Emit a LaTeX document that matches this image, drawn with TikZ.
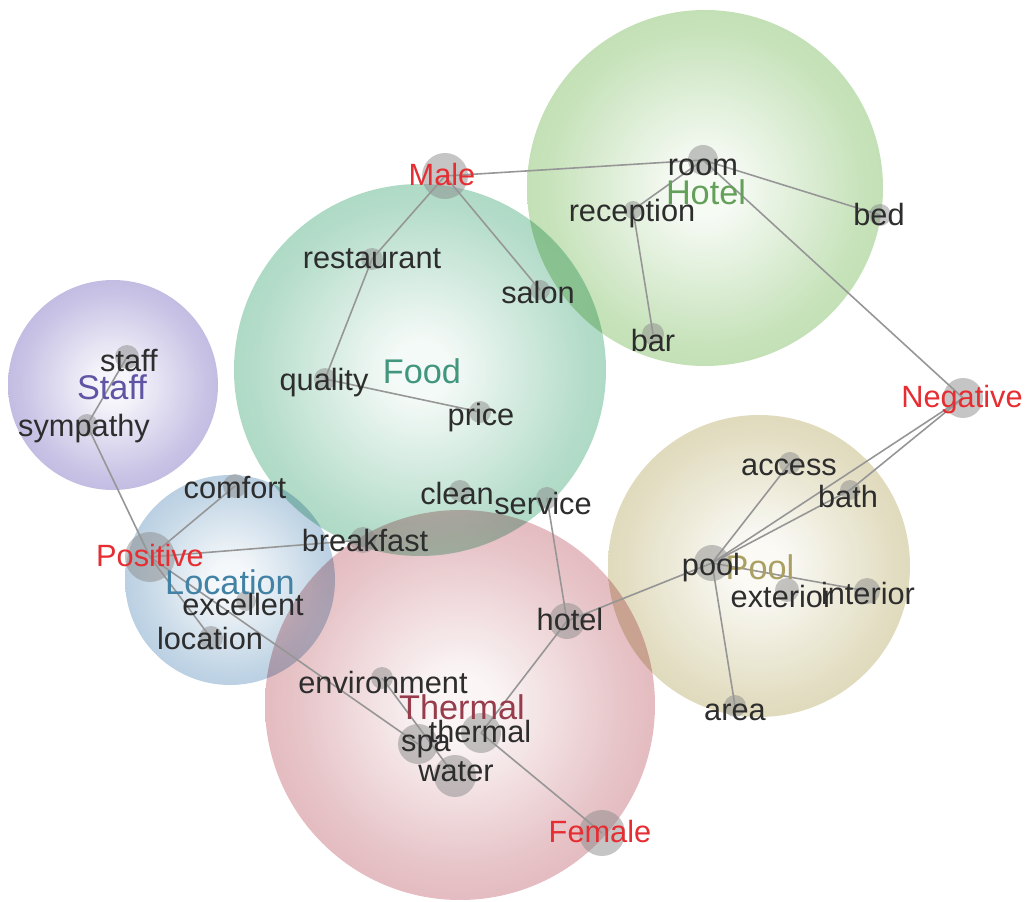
\documentclass[tikz,border=0pt]{standalone}
\usepackage{fontspec}
\setmainfont{Liberation Sans}
\usepackage{xcolor}
\usetikzlibrary{positioning}
\definecolor{bub_staff}{RGB}{148, 136, 205}
\definecolor{bub_food}{RGB}{110, 188, 152}
\definecolor{bub_hotel}{RGB}{146, 200, 122}
\definecolor{bub_loc}{RGB}{132, 172, 204}
\definecolor{bub_therm}{RGB}{206, 134, 142}
\definecolor{bub_pool}{RGB}{200, 190, 136}
\definecolor{lab_staff}{RGB}{95, 85, 165}
\definecolor{lab_food}{RGB}{65, 150, 125}
\definecolor{lab_hotel}{RGB}{100, 160, 90}
\definecolor{lab_loc}{RGB}{65, 130, 165}
\definecolor{lab_therm}{RGB}{150, 60, 75}
\definecolor{lab_pool}{RGB}{170, 160, 100}
\definecolor{feel_red}{RGB}{230, 45, 50}
\definecolor{word_gray}{RGB}{45, 45, 45}
\definecolor{dot_gray}{RGB}{140, 140, 140}
\definecolor{link_gray}{RGB}{150, 150, 150}
\colorlet{bubin}{white}
\colorlet{bubmid}{gray}
\colorlet{bubout}{gray}
\pgfdeclareradialshading[bubin,bubmid,bubout]{bubble}{\pgfpointorigin}%
  {color(0bp)=(bubin); color(4bp)=(bubin); color(22bp)=(bubmid); color(50bp)=(bubout)}

\begin{document}
\begin{tikzpicture}[x=0.02cm, y=-0.02cm,
      bub/.style={/utils/exec={\colorlet{bubin}{#1!8!white}%
                  \colorlet{bubmid}{#1!55!white}\colorlet{bubout}{#1}},
                  shading=bubble, fill opacity=0.92, blend mode=multiply},
      blob/.style={circle, fill=dot_gray, fill opacity=0.5, inner sep=0pt,
                   minimum size=#1*0.02cm},
      blob/.default=22,
      link/.style={draw=link_gray, line width=0.9pt},
      word/.style={font=\fontsize{17.5}{20}\selectfont, text=word_gray, inner sep=0pt},
      feel/.style={word, text=feel_red},
      topic/.style={font=\fontsize{19.5}{22}\selectfont, inner sep=0pt}]
      \fill[white] (0,0) rectangle (1029,902);
      \useasboundingbox (0,0) rectangle (1029,902);
      % Bubbles
      \shade[bub=bub_staff] (113,385) circle (105);
      \shade[bub=bub_hotel] (705,188) circle (178);
      \shade[bub=bub_food] (420,370) circle (186);
      \shade[bub=bub_loc] (230,580) circle (105);
      \shade[bub=bub_pool] (759,566) circle (151);
      \shade[bub=bub_therm] (460,705) circle (195);
      % Hotel
      \node[blob=30] (room) at (703,160) {};
      \node[blob=18] (reception) at (633,210) {};
      \node[blob] (bed) at (880,215) {};
      \node[blob] (bar) at (653,334) {};
      % Food
      \node[blob] (restaurant) at (372,259) {};
      \node[blob=20] (salon) at (540,290) {};
      \node[blob] (quality) at (325,379) {};
      \node[blob] (price) at (480,412) {};
      \node[blob] (clean) at (460,491) {};
      \node[blob] (service) at (547,498) {};
      \node[blob=26] (breakfast) at (363,540) {};
      % Staff
      \node[blob=24] (staff) at (127,357) {};
      \node[blob] (sympathy) at (87,425) {};
      % Location
      \node[blob=24] (comfort) at (235,486) {};
      \node[blob=20] (excellent) at (246,601) {};
      \node[blob=24] (location) at (211,638) {};
      % Thermal
      \node[blob=36] (hotel) at (567,621) {};
      \node[blob] (environment) at (382,678) {};
      \node[blob=40] (thermal) at (481,733) {};
      \node[blob=40] (spa) at (418,744) {};
      \node[blob=42] (water) at (455,776) {};
      % Pool
      \node[blob=36] (pool) at (712,563) {};
      \node[blob] (access) at (790,463) {};
      \node[blob=20] (bath) at (850,490) {};
      \node[blob=24] (exterior) at (787,590) {};
      \node[blob=26] (interior) at (867,591) {};
      \node[blob] (area) at (735,706) {};
      % Sentiment and gender
      \node[blob=46] (male) at (445,176) {};
      \node[blob=40] (negative) at (963,398) {};
      \node[blob=50] (positive) at (150,557) {};
      \node[blob=46] (female) at (602,833) {};
      % Links
      \draw[link] (male.center) -- (room.center);
      \draw[link] (male.center) -- (restaurant.center);
      \draw[link] (male.center) -- (salon.center);
      \draw[link] (room.center) -- (bed.center);
      \draw[link] (room.center) -- (reception.center);
      \draw[link] (reception.center) -- (bar.center);
      \draw[link] (room.center) -- (negative.center);
      \draw[link] (restaurant.center) -- (quality.center);
      \draw[link] (quality.center) -- (price.center);
      \draw[link] (staff.center) -- (sympathy.center);
      \draw[link] (sympathy.center) -- (positive.center);
      \draw[link] (positive.center) -- (comfort.center);
      \draw[link] (positive.center) -- (breakfast.center);
      \draw[link] (positive.center) -- (location.center);
      \draw[link] (positive.center) -- (spa.center);
      \draw[link] (service.center) -- (hotel.center);
      \draw[link] (hotel.center) -- (pool.center);
      \draw[link] (hotel.center) -- (thermal.center);
      \draw[link] (environment.center) -- (water.center);
      \draw[link] (thermal.center) -- (female.center);
      \draw[link] (pool.center) -- (access.center);
      \draw[link] (pool.center) -- (bath.center);
      \draw[link] (bath.center) -- (negative.center);
      \draw[link] (pool.center) -- (negative.center);
      \draw[link] (pool.center) -- (interior.center);
      \draw[link] (pool.center) -- (area.center);
      % Topic labels
      \node[topic, text=lab_hotel] (hotel-t) at (706,192) {Hotel};
      \node[topic, text=lab_food] (food-t) at (422,371) {Food};
      \node[topic, text=lab_staff] (staff-t) at (112,387) {Staff};
      \node[topic, text=lab_loc] (loc-t) at (230,582) {Location};
      \node[topic, text=lab_therm] (therm-t) at (462,707) {Thermal};
      \node[topic, text=lab_pool] (pool-t) at (760,567) {Pool};
      % Words
      \node[word] (room-w) at (703,167) {room};
      \node[word] (reception-w) at (632,214) {reception};
      \node[word] (bed-w) at (879,215) {bed};
      \node[word] (bar-w) at (653,341) {bar};
      \node[word] (restaurant-w) at (372,259) {restaurant};
      \node[word] (salon-w) at (538,293) {salon};
      \node[word] (quality-w) at (324,383) {quality};
      \node[word] (price-w) at (481,418) {price};
      \node[word] (clean-w) at (457,494) {clean};
      \node[word] (service-w) at (543,504) {service};
      \node[word] (breakfast-w) at (365,541) {breakfast};
      \node[word] (staff-w) at (129,361) {staff};
      \node[word] (sympathy-w) at (84,429) {sympathy};
      \node[word] (comfort-w) at (235,488) {comfort};
      \node[word] (excellent-w) at (243,605) {excellent};
      \node[word] (location-w) at (210,639) {location};
      \node[word] (hotel-w) at (570,620) {hotel};
      \node[word] (environment-w) at (383,683) {environment};
      \node[word] (thermal-w) at (480,732) {thermal};
      \node[word] (spa-w) at (426,746) {spa};
      \node[word] (water-w) at (456,772) {water};
      \node[word] (pool-w) at (711,568) {pool};
      \node[word] (access-w) at (789,467) {access};
      \node[word] (bath-w) at (848,497) {bath};
      \node[word] (exterior-w) at (782,597) {exterior};
      \node[word] (interior-w) at (868,594) {interior};
      \node[word] (area-w) at (735,712) {area};
      % Sentiment and gender
      \node[feel] (male-w) at (442,175) {Male};
      \node[feel] (negative-w) at (962,400) {Negative};
      \node[feel] (positive-w) at (150,556) {Positive};
      \node[feel] (female-w) at (600,832) {Female};
    \end{tikzpicture}
\end{document}
